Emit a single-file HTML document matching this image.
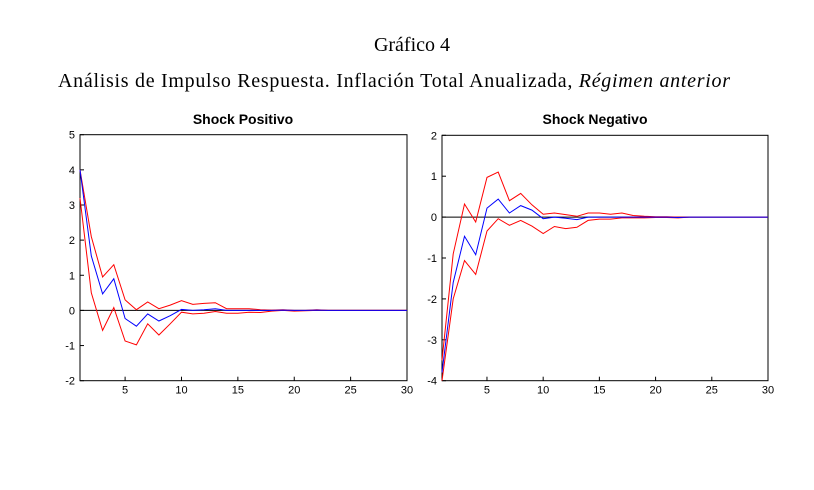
<!DOCTYPE html>
<html><head><meta charset="utf-8"><style>
body{margin:0;background:#fff;width:814px;height:490px;overflow:hidden}
svg{display:block}
</style></head><body>
<svg id="s" width="814" height="490" xmlns="http://www.w3.org/2000/svg" font-family="Liberation Sans, sans-serif">
<text x="412" y="51" text-anchor="middle" font-family="Liberation Serif, serif" font-size="20">Gráfico 4</text>
<text x="58" y="87" font-family="Liberation Serif, serif" font-size="20" textLength="672">Análisis de Impulso Respuesta. Inflación Total Anualizada, <tspan font-style="italic">Régimen anterior</tspan></text>
<text x="243" y="124" text-anchor="middle" font-size="14" font-weight="bold">Shock Positivo</text>
<text x="595" y="124" text-anchor="middle" font-size="14" font-weight="bold">Shock Negativo</text>
<g id="g"></g>
</svg>
<script>
var NS="http://www.w3.org/2000/svg",g=document.getElementById("g");
function el(t,a,txt){var e=document.createElementNS(NS,t);for(var k in a)e.setAttribute(k,a[k]);if(txt!==undefined)e.textContent=txt;g.appendChild(e);return e;}
function pad(a){while(a.length<30)a.push(0);return a;}
function panel(x0,x1,y0,y1,ymax,ymin,series){
 var X=function(i){return x0+(i-1)*(x1-x0)/29},Y=function(v){return y0+(ymax-v)*(y1-y0)/(ymax-ymin)};
 el("rect",{x:x0,y:y0,width:x1-x0,height:y1-y0,fill:"none",stroke:"#000","stroke-width":1});
 el("line",{x1:x0,x2:x1,y1:Y(0),y2:Y(0),stroke:"#000","stroke-width":1});
 for(var v=ymin;v<=ymax;v++){var y=Y(v);el("line",{x1:x0,x2:x0+4,y1:y,y2:y,stroke:"#000"});
  el("text",{x:x0-5,y:y+4,"text-anchor":"end","font-size":"11"},String(v).replace("-","-"));}
 [5,10,15,20,25,30].forEach(function(i){var x=X(i);el("line",{x1:x,x2:x,y1:y1,y2:y1-4,stroke:"#000"});
  el("text",{x:x,y:y1+13,"text-anchor":"middle","font-size":"11"},i);});
 series.forEach(function(s){var p=pad(s[1].slice()).map(function(v,i){return X(i+1).toFixed(1)+","+Y(v).toFixed(1)}).join(" ");
  el("polyline",{points:p,fill:"none",stroke:s[0],"stroke-width":1});});
}
panel(80,407,134.7,380.7,5,-2,[
 ["#ff0000",[4.0,2.1,0.95,1.3,0.3,0.02,0.24,0.05,0.15,0.28,0.17,0.2,0.22,0.05,0.05,0.05,0.02,0.01,0.02,0,0,0.02]],
 ["#ff0000",[3.2,0.5,-0.57,0.08,-0.87,-0.98,-0.38,-0.7,-0.38,-0.05,-0.1,-0.08,-0.03,-0.08,-0.08,-0.05,-0.06,-0.02,0,-0.02,-0.01,0]],
 ["#0000ff",[4.0,1.55,0.47,0.9,-0.23,-0.45,-0.1,-0.3,-0.15,0.03,0,0.02,0.05,0,0,0,0,0,0.01,0,0,0.01]]
]);
panel(442,768,135.3,380.7,2,-4,[
 ["#ff0000",[-3.5,-0.9,0.32,-0.12,0.97,1.1,0.4,0.58,0.3,0.07,0.1,0.06,0.02,0.1,0.1,0.07,0.1,0.04,0.02,0.01,0.01]],
 ["#ff0000",[-4,-2,-1.06,-1.4,-0.34,-0.04,-0.2,-0.08,-0.22,-0.4,-0.23,-0.28,-0.25,-0.08,-0.05,-0.05,-0.02,-0.02,-0.02,-0.01,-0.01,-0.02]],
 ["#0000ff",[-3.8,-1.6,-0.47,-0.92,0.22,0.44,0.1,0.28,0.17,-0.04,0,-0.03,-0.06,0,0,0,0,0,0,0,0,-0.01]]
]);
</script>
</body></html>
